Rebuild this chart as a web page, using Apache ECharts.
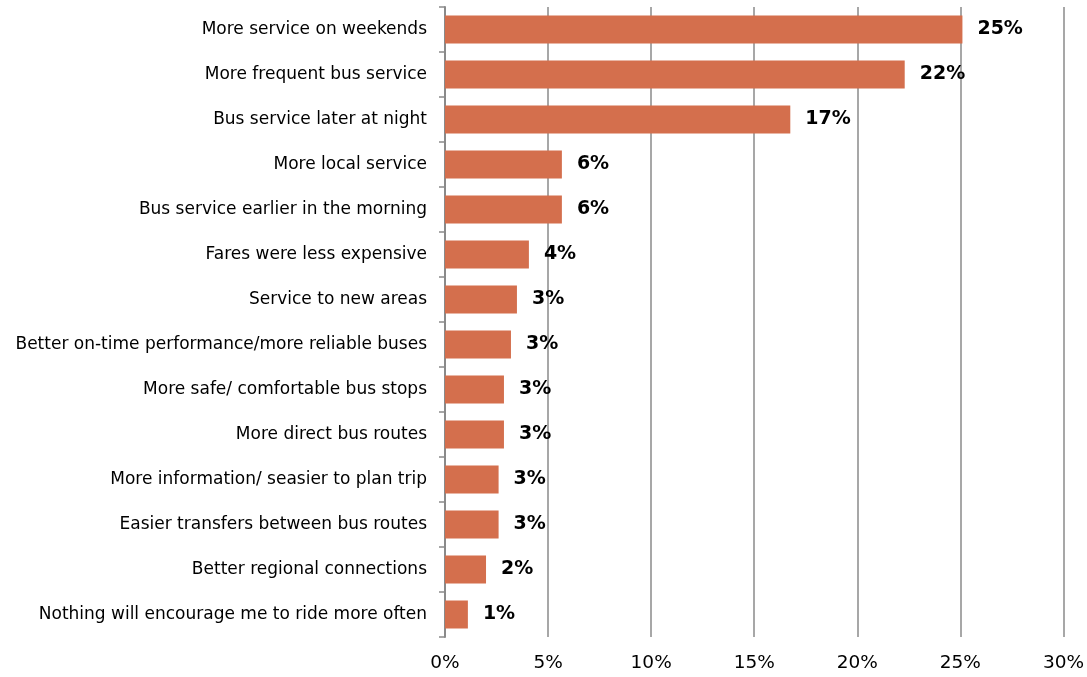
<!DOCTYPE html>
<html><head><meta charset="utf-8">
<script src="https://cdn.jsdelivr.net/npm/echarts@6/dist/echarts.min.js"></script>
<style>html,body{margin:0;padding:0;background:#fff}#c{width:1087px;height:677px}</style>
</head><body><div id="c"></div>
<script>
const categories = [
  "More service on weekends",
  "More frequent bus service",
  "Bus service later at night",
  "More local service",
  "Bus service earlier in the morning",
  "Fares were less expensive",
  "Service to new areas",
  "Better on-time performance/more reliable buses",
  "More safe/ comfortable bus stops",
  "More direct bus routes",
  "More information/ seasier to plan trip",
  "Easier transfers between bus routes",
  "Better regional connections",
  "Nothing will encourage me to ride more often"
];
const values = [25.1, 22.3, 16.75, 5.67, 5.67, 4.07, 3.49, 3.2, 2.86, 2.86, 2.6, 2.6, 1.99, 1.11];
const valueLabels = ["25%","22%","17%","6%","6%","4%","3%","3%","3%","3%","3%","3%","2%","1%"];
const xTicks = [0, 5, 10, 15, 20, 25, 30];

const chart = echarts.init(document.getElementById('c'));
chart.setOption({
  animation: false,
  backgroundColor: '#fff',
  grid: {left: 445, right: 23, top: 7, bottom: 40, containLabel: false},
  xAxis: {
    type: 'value', min: xTicks[0], max: xTicks[xTicks.length - 1], interval: 5,
    axisLine: {show: false}, axisTick: {show: false},
    splitLine: {show: true, lineStyle: {color: '#8a8a8a', width: 1.5}},
    axisLabel: {formatter: v => v + '%', color: '#000', fontSize: 18.5, fontFamily: 'DejaVu Sans', margin: 17}
  },
  yAxis: {
    type: 'category', data: categories, inverse: true,
    axisLine: {show: true, lineStyle: {color: '#8a8a8a', width: 2}},
    axisTick: {show: true, length: 6, lineStyle: {color: '#8a8a8a', width: 1.5}},
    axisLabel: {color: '#000', fontSize: 17, fontFamily: 'DejaVu Sans', margin: 18}
  },
  series: [{
    type: 'bar', data: values, barWidth: 28,
    itemStyle: {color: '#D46F4D'},
    label: {
      show: true, position: 'right', distance: 15,
      formatter: p => valueLabels[p.dataIndex],
      color: '#000', fontSize: 19, fontWeight: 'bold', fontFamily: 'DejaVu Sans'
    }
  }]
});
</script></body></html>
